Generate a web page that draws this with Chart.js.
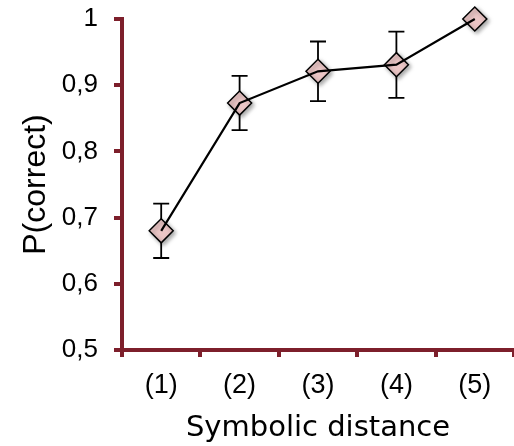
<!DOCTYPE html>
<html>
<head>
<meta charset="utf-8">
<script src="https://cdn.jsdelivr.net/npm/chart.js@4"></script>
<style>
  html, body { margin: 0; padding: 0; background: #fff; }
  #wrap { width: 514px; height: 446px; }
</style>
</head>
<body>
<div id="wrap"><canvas id="grafico" width="514" height="446"></canvas></div>
<script>
const categorias = ['(1)', '(2)', '(3)', '(4)', '(5)'];
const pCorreto = [0.680, 0.873, 0.921, 0.931, 1.0];
const erro = [0.041, 0.041, 0.045, 0.050, 0];

const corEixo = '#7d1f2b';

// estica o eixo x até a borda direita do canvas
const eixoAteBorda = {
  id: 'eixoAteBorda',
  afterLayout(chart) {
    const s = chart.scales.x;
    s.right = chart.width;
    s.width = s.right - s.left;
    s.configure();
    chart.chartArea.right = chart.width;
    chart.chartArea.width = chart.chartArea.right - chart.chartArea.left;
  }
};

// barras de erro desenhadas antes dos pontos
const barrasErro = {
  id: 'barrasErro',
  beforeDatasetsDraw(chart) {
    const ctx = chart.ctx;
    const x = chart.scales.x, y = chart.scales.y;
    ctx.save();
    ctx.strokeStyle = '#000';
    ctx.lineWidth = 1.8;
    pCorreto.forEach((v, i) => {
      if (!erro[i]) return;
      const px = x.getPixelForValue(i);
      const top = y.getPixelForValue(v + erro[i]);
      const bot = y.getPixelForValue(v - erro[i]);
      ctx.beginPath();
      ctx.moveTo(px, top); ctx.lineTo(px, bot);
      ctx.moveTo(px - 8, top); ctx.lineTo(px + 8, top);
      ctx.moveTo(px - 8, bot); ctx.lineTo(px + 8, bot);
      ctx.stroke();
    });
    ctx.restore();
  },
  beforeDatasetDraw(chart, args) {
    if (args.index === 1) {
      chart.ctx.save();
      chart.ctx.shadowColor = 'rgba(0,0,0,0.35)';
      chart.ctx.shadowBlur = 4;
      chart.ctx.shadowOffsetX = 2;
      chart.ctx.shadowOffsetY = 2;
    }
  },
  afterDatasetDraw(chart, args) {
    if (args.index === 1) chart.ctx.restore();
  }
};

new Chart(document.getElementById('grafico'), {
  type: 'line',
  data: {
    labels: categorias,
    datasets: [{
      data: pCorreto,
      borderColor: '#000',
      borderWidth: 2.2,
      pointRadius: 0,
      fill: false,
      tension: 0
    }, {
      data: pCorreto,
      showLine: false,
      pointStyle: 'rectRot',
      pointRadius: 12,
      pointBackgroundColor: '#ebc6c6',
      pointBorderColor: '#000',
      pointBorderWidth: 1.5
    }]
  },
  plugins: [eixoAteBorda, barrasErro],
  options: {
    responsive: false,
    animation: false,
    clip: false,
    layout: { padding: { top: 19, right: 0, left: 0, bottom: 0 } },
    plugins: { legend: { display: false }, tooltip: { enabled: false } },
    scales: {
      x: {
        offset: true,
        grid: { offset: true, drawOnChartArea: false, color: corEixo, lineWidth: 4, tickLength: 7 },
        border: { color: corEixo, width: 4 },
        ticks: { color: '#000', font: { family: 'Liberation Sans', size: 27 }, padding: 12 },
        title: {
          display: true,
          text: 'Symbolic distance',
          color: '#000',
          font: { family: 'DejaVu Sans', size: 29 },
          padding: { top: 0, bottom: 0 }
        },
        afterFit: s => { s.height = 96; s.paddingLeft = 0; s.paddingRight = 0; }
      },
      y: {
        min: 0.5,
        max: 1,
        grid: { drawOnChartArea: false, color: corEixo, lineWidth: 4, tickLength: 8 },
        border: { color: corEixo, width: 4 },
        ticks: {
          stepSize: 0.1,
          color: '#000',
          padding: 16,
          font: { family: 'Liberation Sans', size: 26 },
          callback: v => (Math.abs(v - 1) < 1e-9 ? '1' : v.toFixed(1).replace('.', ','))
        },
        title: {
          display: true,
          text: 'P(correct)',
          color: '#000',
          font: { family: 'Liberation Sans', size: 32 },
          padding: { top: 17, bottom: 0 }
        },
        afterFit: s => { s.width = 122; s.paddingTop = 0; s.paddingBottom = 0; }
      }
    }
  }
});
</script>
</body>
</html>
